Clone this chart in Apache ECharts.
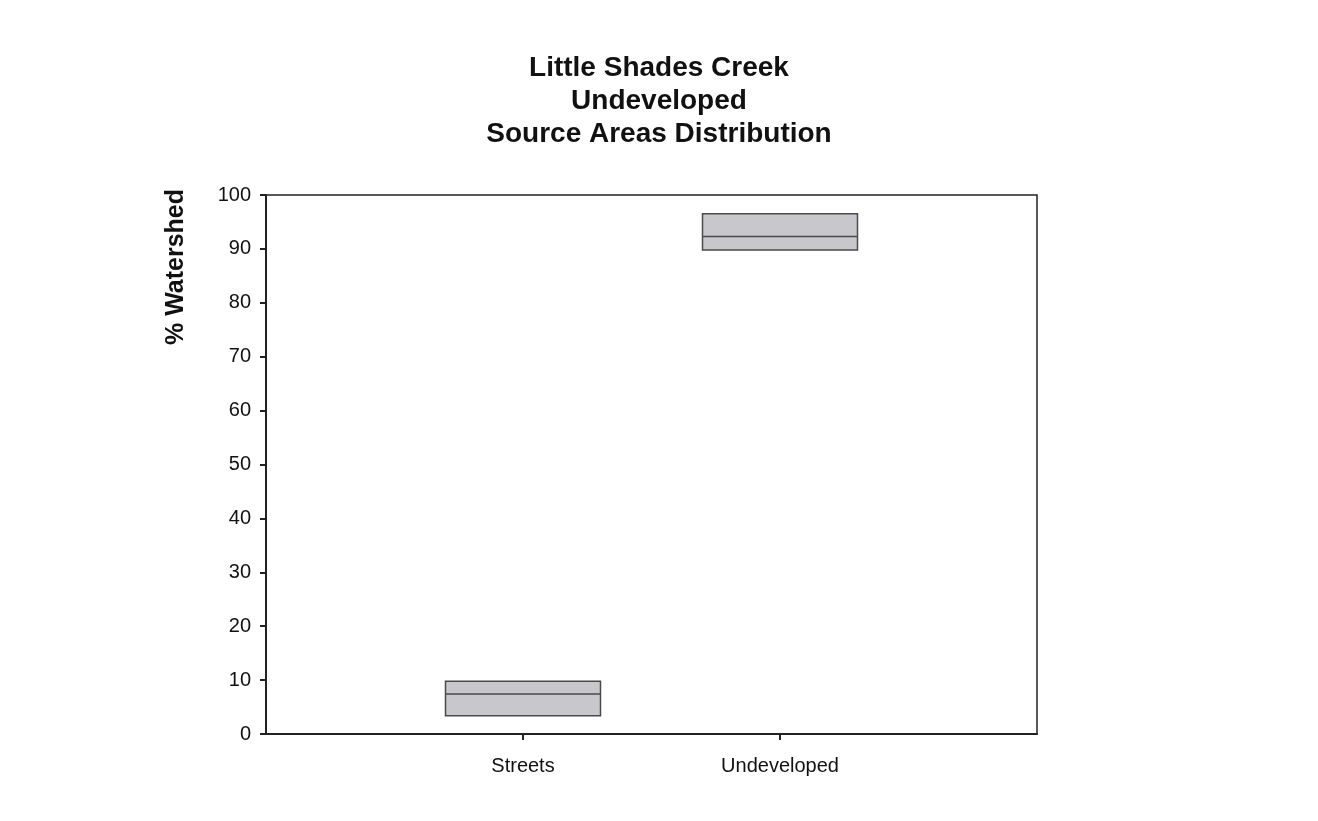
<!DOCTYPE html>
<html>
<head>
<meta charset="utf-8">
<script src="https://cdn.jsdelivr.net/npm/echarts@6/dist/echarts.min.js"></script>
<style>
  html, body { margin: 0; padding: 0; background: #fff; }
  #chart { width: 1318px; height: 821px; }
</style>
</head>
<body>
<div id="chart"></div>
<script>
// axis slots: empty ends so the two boxes sit at 1 and 2 of 0..3
var categories = ['', 'Streets', 'Undeveloped', ''];
var boxCats = [1, 2];
var lower = [3.4, 89.8];
var median = [7.4, 92.3];
var upper = [9.8, 96.5];
var yTicks = [0, 100, 10];

var font = 'Liberation Sans, Arial, sans-serif';

var boxData = boxCats.map(function (c, i) {
    return [c, lower[i], lower[i], median[i], upper[i], upper[i]];
});

var myChart = echarts.init(document.getElementById('chart'));

myChart.setOption({
    backgroundColor: '#ffffff',
    animation: false,
    title: {
        text: 'Little Shades Creek\nUndeveloped\nSource Areas Distribution',
        left: 'center',
        top: 52,
        padding: 0,
        textStyle: {
            fontFamily: font,
            fontSize: 28,
            fontWeight: 'bold',
            color: '#111',
            lineHeight: 33
        }
    },
    graphic: [{
        type: 'text',
        x: 176,
        y: 267,
        rotation: Math.PI / 2,
        style: {
            text: '% Watershed',
            font: 'bold 25px ' + font,
            fill: '#111',
            textAlign: 'center',
            textVerticalAlign: 'middle'
        }
    }],
    grid: {
        left: 266,
        right: 281,
        top: 195,
        bottom: 87,
        show: true,
        borderColor: '#222',
        borderWidth: 1.5,
        backgroundColor: 'transparent'
    },
    xAxis: {
        type: 'category',
        data: categories,
        boundaryGap: false,
        axisLine: { lineStyle: { color: '#222', width: 2 } },
        axisTick: {
            length: 6,
            interval: function (idx, val) { return val !== ''; },
            lineStyle: { color: '#222', width: 2 }
        },
        axisLabel: {
            interval: 0,
            margin: 22,
            fontFamily: font,
            fontSize: 20,
            color: '#111'
        },
        splitLine: { show: false }
    },
    yAxis: {
        type: 'value',
        min: yTicks[0],
        max: yTicks[1],
        interval: yTicks[2],
        axisLine: { show: true, lineStyle: { color: '#222', width: 2 } },
        axisTick: { show: true, length: 6, lineStyle: { color: '#222', width: 2 } },
        axisLabel: {
            margin: 15,
            fontFamily: font,
            fontSize: 20,
            color: '#111'
        },
        splitLine: { show: false }
    },
    series: [{
        type: 'boxplot',
        data: boxData,
        encode: { x: 0, y: [1, 2, 3, 4, 5] },
        boxWidth: [155, 155],
        itemStyle: {
            color: '#c8c8cc',
            borderColor: '#4a4a4a',
            borderWidth: 1.5
        }
    }]
});
</script>
</body>
</html>
